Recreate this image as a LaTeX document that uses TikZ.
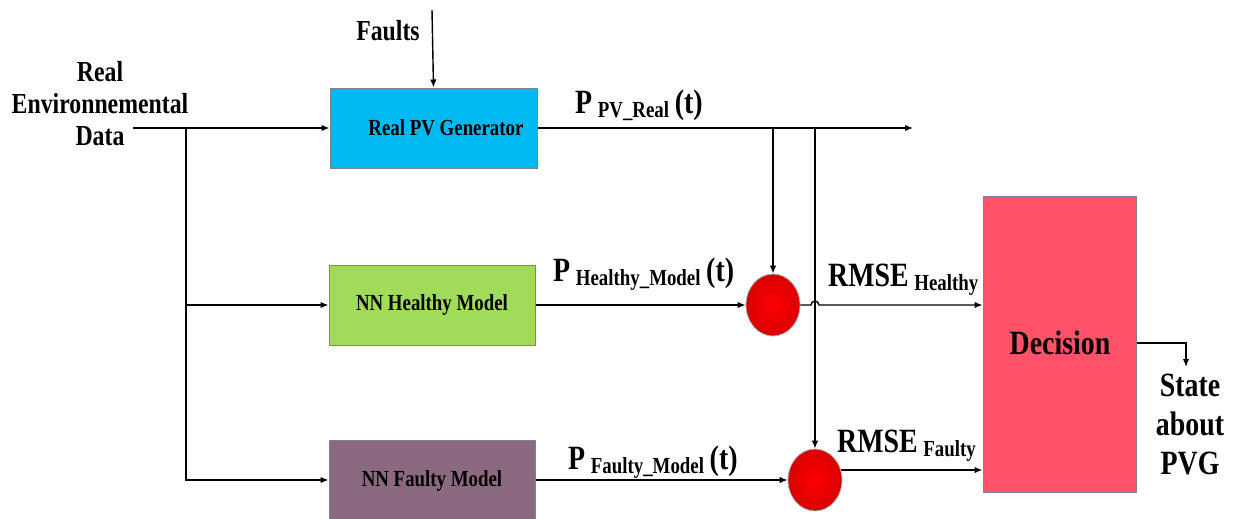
\documentclass[tikz,border=0pt]{standalone}
\usepackage{fontspec}
\newfontfamily\figfont{Liberation Serif}[FakeStretch=0.82]
\usetikzlibrary{arrows.meta,shapes.geometric}

\definecolor{pvblue}{RGB}{0,185,240}
\definecolor{nngreen}{RGB}{160,220,90}
\definecolor{nnmauve}{RGB}{139,105,128}
\definecolor{decred}{RGB}{255,82,104}
\definecolor{boxedge}{RGB}{125,130,150}

% signal label: big symbol, lowered subscript, optional tail
\newcommand\siglab[3]{#1\,\raisebox{-4pt}{\fontsize{23}{23}\selectfont #2}\,#3}

\begin{document}
\begin{tikzpicture}[x=1pt,y=-1pt,
  font=\figfont\bfseries,
  blockbox/.style={draw=boxedge,line width=1pt,minimum width=#1,minimum height=80pt,inner sep=0pt},
  wire/.style={line width=1.4pt},
  arr/.style={wire,-{Latex[length=8pt,width=6.5pt]}},
  errball/.style={ellipse,draw=gray!60,line width=0.8pt,minimum width=54pt,minimum height=62pt,
    inner sep=0pt,shade,inner color=red,outer color=red!85!black},
  boxtext/.style={font=\figfont\bfseries\fontsize{23}{26}\selectfont,inner sep=0pt},
  bigtext/.style={font=\figfont\bfseries\fontsize{29}{32}\selectfont,align=center,inner sep=0pt},
  sigtext/.style={font=\figfont\bfseries\fontsize{34}{36}\selectfont,inner sep=0pt,anchor=base west}
]
\useasboundingbox (0,0) rectangle (1236,519);

% blocks
\node[blockbox=207pt,fill=pvblue] (rpv) at (433.5,128) {};
\node[boxtext] (rpvt) at (446,128) {Real PV Generator};
\node[blockbox=206pt,fill=nngreen] (hm) at (432,305) {};
\node[boxtext] (hmt) at (432,305) {NN Healthy Model};
\node[blockbox=206pt,fill=nnmauve] (fm) at (432,480) {};
\node[boxtext] (fmt) at (432,481) {NN Faulty Model};
\node[draw=boxedge,line width=1pt,fill=decred,minimum width=153pt,minimum height=296pt,inner sep=0pt] (dec) at (1059.5,344) {};
\node[font=\figfont\bfseries\fontsize{34}{36}\selectfont,inner sep=0pt] (dect) at (1060,343) {Decision};

% error nodes
\node[errball] (c1) at (773,305) {};
\node[errball] (c2) at (815,480) {};

% text labels
\node[bigtext] (env) at (100,104) {Real\\Environnemental\\Data};
\node[bigtext] (faults) at (388,31) {Faults};
\node[font=\figfont\bfseries\fontsize{34}{39}\selectfont,align=center,inner sep=0pt] (state) at (1190,424) {State\\about\\PVG};

\node[sigtext] (lreal) at (575,113) {\siglab{P}{PV\_Real}{(t)}};
\node[sigtext] (lhm) at (553,281) {\siglab{P}{Healthy\_Model}{(t)}};
\node[sigtext] (lfm) at (568,469) {\siglab{P}{Faulty\_Model}{(t)}};
\node[sigtext] (lrh) at (828,286) {\siglab{RMSE}{Healthy}{}};
\node[sigtext] (lrf) at (837,452) {\siglab{RMSE}{Faulty}{}};

% free ends and taps
\coordinate (envout) at (133,128);
\coordinate (split) at (186,128);
\coordinate (fltin) at (432,10);
\coordinate (realend) at (913,128);
\coordinate (tap1) at (773,128);
\coordinate (tap2) at (815,128);
\coordinate (turn) at (1186,343);
\coordinate (stateend) at (1186,367);

% input distribution
\draw[arr] (envout) -- (rpv.west);
\draw[arr] (split) |- (hm.west);
\draw[arr] (split) |- (fm.west);
\draw[arr] (fltin) -- (rpv.north);

% measured power and its taps
\draw[arr] (rpv.east) -- (realend);
\draw[arr] (tap1) -- (c1.north);
\draw[arr] (tap2) -- (c2.north);

% model outputs into comparators
\draw[arr] (hm.east) -- (c1.west);
\draw[arr] (fm.east) -- (c2.west);

% errors into decision (healthy line hops over the vertical tap)
\draw[arr] (c1.east) -- (811,305) arc[start angle=180,end angle=0,radius=4pt] -- (c1.east -| dec.west);
\draw[arr] (c2.21) -- (c2.21 -| dec.west);

% decision output
\draw[arr] (dec.east |- turn) -- (turn) -- (stateend);
\end{tikzpicture}
\end{document}
